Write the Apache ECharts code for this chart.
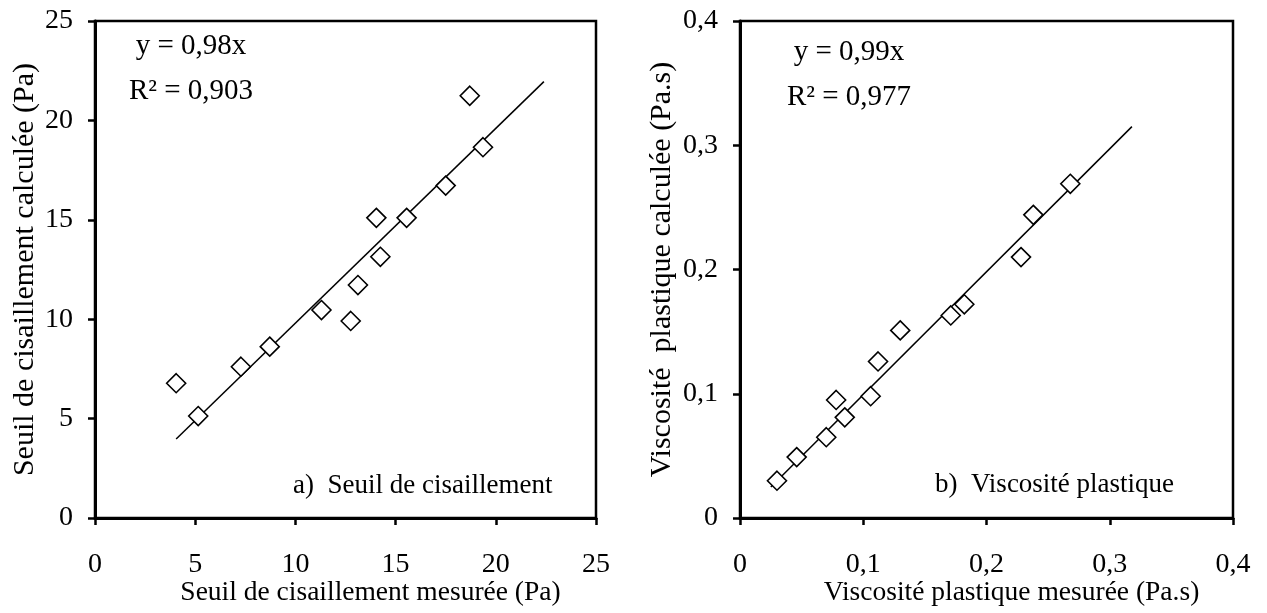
<!DOCTYPE html>
<html>
<head>
<meta charset="utf-8">
<script src="https://cdn.jsdelivr.net/npm/echarts@6/dist/echarts.min.js"></script>
<style>
html,body{margin:0;padding:0;background:#fff;}
#chart{width:1267px;height:613px;}
</style>
</head>
<body>
<div id="chart"></div>
<script>
// ---- Data ----
const shearMeasured   = [4.05, 5.15, 7.28, 8.72, 11.30, 12.76, 13.12, 14.04, 14.24, 15.55, 17.50, 18.70, 19.36];
const shearCalculated = [6.78, 5.13, 7.61, 8.62, 10.46, 9.91, 11.72, 15.10, 13.14, 15.10, 16.72, 21.24, 18.65];
const shearTrendX = [4.05, 22.4];
const shearTrendY = [3.97, 21.95];

const viscMeasured   = [0.030, 0.046, 0.070, 0.078, 0.085, 0.106, 0.112, 0.130, 0.171, 0.182, 0.228, 0.238, 0.268];
const viscCalculated = [0.030, 0.049, 0.065, 0.095, 0.081, 0.098, 0.126, 0.151, 0.163, 0.172, 0.210, 0.244, 0.269];
const viscTrendX = [0.025, 0.318];
const viscTrendY = [0.025, 0.315];

const shearTicks = [0, 5, 10, 15, 20, 25];
const viscTicks = [0, 0.1, 0.2, 0.3, 0.4];

const shearXTitle = 'Seuil de cisaillement mesurée (Pa)';
const shearYTitle = 'Seuil de cisaillement calculée (Pa)';
const viscXTitle = 'Viscosité plastique mesurée (Pa.s)';
const viscYTitle = 'Viscosité  plastique calculée (Pa.s)';
const shearEq = ['y = 0,98x', 'R² = 0,903'];
const viscEq = ['y = 0,99x', 'R² = 0,977'];
const shearLabel = 'a)  Seuil de cisaillement';
const viscLabel = 'b)  Viscosité plastique';

// ---- Chart ----
const FONT = '"Liberation Serif", "Times New Roman", serif';
const TICK_FS = 28;
const XT_FS = 27.5;
const YT_FS = 30;
const chart = echarts.init(document.getElementById('chart'), null, {renderer: 'canvas'});

function fmt(v) {
  const r = Math.round(v * 1000) / 1000;
  return String(r).replace('.', ',');
}
function zip(a, b) { return a.map((v, i) => [v, b[i]]); }

function valueAxis(gridIndex, min, max, interval, name, nameGap, isX) {
  return {
    type: 'value', gridIndex, min, max, interval,
    name, nameLocation: 'middle', nameGap, nameMoveOverlap: false,
    nameTextStyle: isX
      ? {fontFamily: FONT, fontSize: XT_FS, color: '#000', padding: [0, 0, 0, 50]}
      : {fontFamily: FONT, fontSize: YT_FS, color: '#000'},
    axisLine: {show: true, onZero: false, lineStyle: {color: '#000', width: 3}},
    axisTick: {show: true, inside: false, length: 7, lineStyle: {color: '#000', width: 2.5}},
    axisLabel: {show: true, margin: isX ? 33 : 22, fontFamily: FONT, fontSize: TICK_FS, color: '#000', formatter: fmt},
    splitLine: {show: false}
  };
}

const option = {
  backgroundColor: '#fff',
  animation: false,
  grid: [
    {left: 95, top: 21, width: 501, height: 497, containLabel: false, outerBoundsMode: 'none', show: true, borderColor: '#000', borderWidth: 2.5, backgroundColor: 'transparent'},
    {left: 740, top: 21, width: 493, height: 497, containLabel: false, outerBoundsMode: 'none', show: true, borderColor: '#000', borderWidth: 2.5, backgroundColor: 'transparent'}
  ],
  xAxis: [
    valueAxis(0, shearTicks[0], shearTicks[shearTicks.length - 1], shearTicks[1] - shearTicks[0], shearXTitle, 61, true),
    valueAxis(1, viscTicks[0], viscTicks[viscTicks.length - 1], 0.1, viscXTitle, 61, true)
  ],
  yAxis: [
    valueAxis(0, shearTicks[0], shearTicks[shearTicks.length - 1], shearTicks[1] - shearTicks[0], shearYTitle, 55, false),
    valueAxis(1, viscTicks[0], viscTicks[viscTicks.length - 1], 0.1, viscYTitle, 63, false)
  ],
  series: [
    {
      type: 'line', xAxisIndex: 0, yAxisIndex: 0, data: zip(shearTrendX, shearTrendY),
      showSymbol: false, symbol: 'none', lineStyle: {color: '#000', width: 1.5}, z: 2
    },
    {
      type: 'scatter', xAxisIndex: 0, yAxisIndex: 0, data: zip(shearMeasured, shearCalculated),
      symbol: 'diamond', symbolSize: 19,
      itemStyle: {color: '#fff', borderColor: '#000', borderWidth: 1.6, opacity: 1}, z: 3
    },
    {
      type: 'line', xAxisIndex: 1, yAxisIndex: 1, data: zip(viscTrendX, viscTrendY),
      showSymbol: false, symbol: 'none', lineStyle: {color: '#000', width: 1.5}, z: 2
    },
    {
      type: 'scatter', xAxisIndex: 1, yAxisIndex: 1, data: zip(viscMeasured, viscCalculated),
      symbol: 'diamond', symbolSize: 19,
      itemStyle: {color: '#fff', borderColor: '#000', borderWidth: 1.6, opacity: 1}, z: 3
    }
  ],
  graphic: [
    {type: 'text', x: 191, y: 46, style: {text: shearEq[0], font: '29px ' + FONT, fill: '#000', align: 'center', verticalAlign: 'middle'}},
    {type: 'text', x: 191, y: 91, style: {text: shearEq[1], font: '29px ' + FONT, fill: '#000', align: 'center', verticalAlign: 'middle'}},
    {type: 'text', x: 849, y: 52, style: {text: viscEq[0], font: '29px ' + FONT, fill: '#000', align: 'center', verticalAlign: 'middle'}},
    {type: 'text', x: 849, y: 97, style: {text: viscEq[1], font: '29px ' + FONT, fill: '#000', align: 'center', verticalAlign: 'middle'}},
    {type: 'text', x: 293, y: 486, style: {text: shearLabel, font: '27px ' + FONT, fill: '#000', align: 'left', verticalAlign: 'middle'}},
    {type: 'text', x: 935, y: 485, style: {text: viscLabel, font: '27px ' + FONT, fill: '#000', align: 'left', verticalAlign: 'middle'}}
  ]
};
chart.setOption(option);
</script>
</body>
</html>
